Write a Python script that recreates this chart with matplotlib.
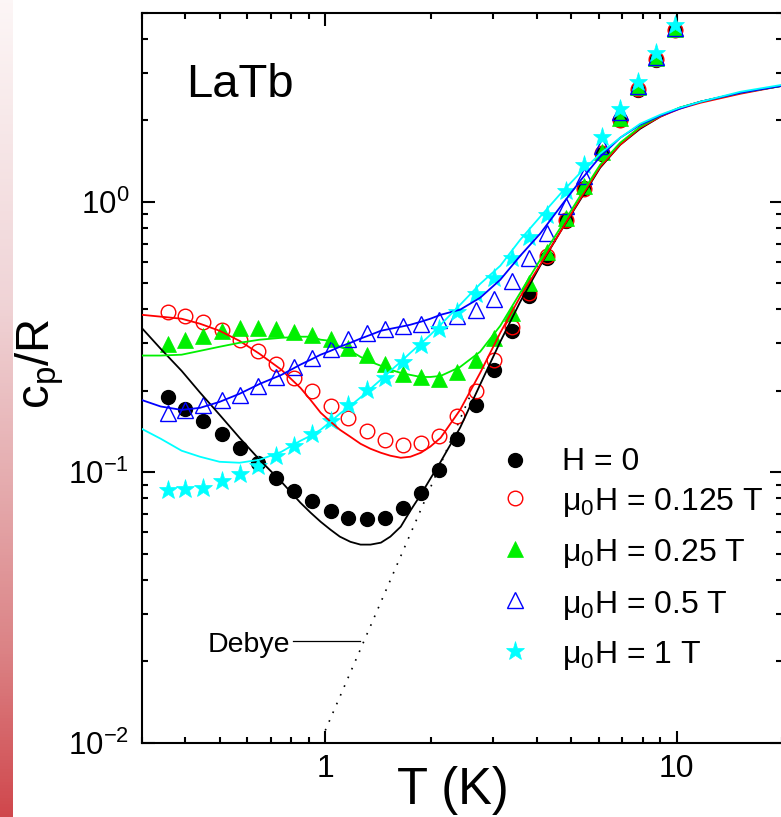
import numpy as np
import matplotlib
matplotlib.use("Agg")
import matplotlib.pyplot as plt
from matplotlib.ticker import LogLocator, FuncFormatter, NullFormatter
from matplotlib.colors import LinearSegmentedColormap

plt.rcParams['font.family'] = ['Liberation Sans', 'DejaVu Sans']
plt.rcParams['mathtext.fontset'] = 'custom'
plt.rcParams['mathtext.rm'] = 'Liberation Sans'
plt.rcParams['mathtext.it'] = 'Liberation Sans:italic'
plt.rcParams['mathtext.bf'] = 'Liberation Sans:bold'
plt.rcParams['mathtext.default'] = 'regular'
plt.rcParams['axes.unicode_minus'] = False

# ---------------- data ----------------
T_data = [0.357, 0.400, 0.450, 0.507, 0.570, 0.643, 0.725, 0.816, 0.918, 1.035,
          1.164, 1.313, 1.476, 1.666, 1.875, 2.109, 2.377, 2.679, 3.015, 3.400,
          3.791, 4.276, 4.843, 5.437, 6.131, 6.909, 7.764, 8.750, 9.908]

cp_H0 = [0.190, 0.172, 0.155, 0.139, 0.123, 0.108, 0.095, 0.085, 0.078, 0.072,
         0.068, 0.067, 0.068, 0.074, 0.084, 0.102, 0.133, 0.177, 0.239, 0.332,
         0.45, 0.62, 0.85, 1.12, 1.50, 2.00, 2.60, 3.35, 4.30]
cp_0125 = [0.390, 0.377, 0.359, 0.336, 0.307, 0.280, 0.252, 0.223, 0.199, 0.175,
           0.1586, 0.1423, 0.1318, 0.1263, 0.1282, 0.1364, 0.1618, 0.200, 0.2605, 0.343,
           0.460, 0.628, 0.858, 1.11, 1.52, 2.01, 2.62, 3.37, 4.32]
cp_025 = [0.298, 0.309, 0.320, 0.334, 0.341, 0.341, 0.338, 0.331, 0.322, 0.311,
          0.288, 0.272, 0.251, 0.231, 0.224, 0.221, 0.234, 0.2605, 0.313, 0.388,
          0.501, 0.652, 0.870, 1.14, 1.53, 2.04, 2.65, 3.40, 4.35]
cp_05 = [0.1655, 0.1693, 0.1777, 0.1854, 0.1934, 0.2076, 0.2248, 0.2448, 0.2644, 0.2854,
         0.311, 0.327, 0.338, 0.346, 0.354, 0.364, 0.379, 0.399, 0.437, 0.5075,
         0.619, 0.766, 0.961, 1.24, 1.61, 2.15, 2.68, 3.44, 4.39]
cp_1 = [0.0862, 0.0869, 0.0874, 0.0930, 0.0985, 0.1057, 0.1151, 0.1253, 0.1388, 0.155,
        0.1777, 0.2006, 0.223, 0.2545, 0.296, 0.339, 0.390, 0.457, 0.522, 0.619,
        0.738, 0.895, 1.10, 1.37, 1.73, 2.20, 2.78, 3.55, 4.51]

# model curves
T_fit = [0.30, 0.34, 0.39, 0.44, 0.50, 0.57, 0.65, 0.75, 0.85, 0.908,
         0.97, 1.035, 1.10, 1.179, 1.26, 1.345, 1.44, 1.532, 1.64, 1.747,
         1.87, 1.991, 2.13, 2.42, 2.76, 3.15, 3.59, 4.09, 4.67, 5.32,
         6.06, 6.91, 7.88, 8.98, 10.2, 11.7, 15.2, 20.0]
fit_H0 = [0.342, 0.286, 0.237, 0.197, 0.1632, 0.1341, 0.1112, 0.0922, 0.0771, 0.0709,
          0.0656, 0.0613, 0.0578, 0.0553, 0.0540, 0.0540, 0.0549, 0.0578, 0.0629, 0.0721,
          0.0826, 0.0946, 0.1093, 0.1461, 0.211, 0.304, 0.427, 0.580, 0.775, 1.017,
          1.336, 1.624, 1.862, 2.062, 2.226, 2.343, 2.529, 2.684]
fit_0125 = [0.382, 0.376, 0.3694, 0.354, 0.3335, 0.306, 0.274, 0.2393, 0.205, 0.185,
            0.166, 0.1538, 0.1436, 0.1352, 0.1274, 0.1221, 0.1180, 0.1151, 0.1131, 0.1141,
            0.1180, 0.1244, 0.1341, 0.170, 0.233, 0.328, 0.446, 0.585, 0.775, 1.026,
            1.347, 1.624, 1.877, 2.062, 2.207, 2.323, 2.508, 2.684]
fit_025 = [0.270, 0.270, 0.272, 0.281, 0.291, 0.301, 0.309, 0.314, 0.317, 0.317,
           0.309, 0.306, 0.291, 0.281, 0.267, 0.256, 0.2475, 0.2393, 0.233, 0.229,
           0.225, 0.225, 0.227, 0.245, 0.279, 0.348, 0.461, 0.610, 0.801, 1.052,
           1.370, 1.652, 1.894, 2.079, 2.226, 2.343, 2.529, 2.684]
fit_05 = [0.185, 0.175, 0.170, 0.173, 0.182, 0.195, 0.212, 0.229, 0.250, 0.2605,
          0.272, 0.281, 0.291, 0.301, 0.312, 0.322, 0.3335, 0.339, 0.345, 0.351,
          0.360, 0.3694, 0.382, 0.399, 0.4417, 0.515, 0.6316, 0.762, 0.958, 1.196,
          1.467, 1.724, 1.926, 2.079, 2.207, 2.343, 2.529, 2.684]
fit_1 = [0.1448, 0.133, 0.1201, 0.1141, 0.1093, 0.1084, 0.1112, 0.1190, 0.1307, 0.1364,
         0.1436, 0.1537, 0.1646, 0.1761, 0.189, 0.2035, 0.220, 0.237, 0.256, 0.2765,
         0.299, 0.322, 0.351, 0.416, 0.497, 0.580, 0.724, 0.880, 1.070, 1.280,
         1.505, 1.724, 1.943, 2.096, 2.226, 2.343, 2.551, 2.707]

# Debye T^3 line (end points)
T_debye = [1.0, 2.6]
cp_debye = [0.0111, 0.195]

labels = ['H = 0', 'μ$_{0}$H = 0.125 T', 'μ$_{0}$H = 0.25 T',
          'μ$_{0}$H = 0.5 T', 'μ$_{0}$H = 1 T']

# ---------------- figure ----------------
W, H = 781, 817
fig = plt.figure(figsize=(W / 100, H / 100), dpi=100)

# decorative gradient strip at the left edge
gax = fig.add_axes([0, 0, 13 / W, 1])
grad_cmap = LinearSegmentedColormap.from_list(
    'strip', [(0.0, (0.99, 0.965, 0.965)), (0.37, (0.94, 0.83, 0.84)),
              (0.61, (0.895, 0.66, 0.67)), (0.8, (0.86, 0.51, 0.52)),
              (1.0, (0.815, 0.28, 0.30))])
gax.imshow(np.linspace(0, 1, 256)[:, None], aspect='auto', cmap=grad_cmap,
           extent=[0, 1, 1, 0])
gax.set_axis_off()

ax = fig.add_axes([141.6 / W, 74.3 / H, 640.7 / W, 730 / H])
ax.set_xscale('log')
ax.set_yscale('log')
ax.set_xlim(0.3, 20)
ax.set_ylim(0.01, 5)

GREEN = '#00f000'
st_H0 = dict(marker='o', ms=10, color='black', mec='black', mew=1)
st_0125 = dict(marker='o', ms=10.5, mfc='none', mec='red', mew=1.0)
st_025 = dict(marker='^', ms=11, color=GREEN, mec=GREEN, mew=0.5)
st_05 = dict(marker='^', ms=11.5, mfc='none', mec='blue', mew=1.0)
st_1 = dict(marker='*', ms=14, color='cyan', mec='cyan', mew=0.5)

# markers
ax.plot(T_data, cp_H0, ls='none', zorder=2, **st_H0)
ax.plot(T_data, cp_0125, ls='none', zorder=2, **st_0125)
ax.plot(T_data, cp_025, ls='none', zorder=2, **st_025)
ax.plot(T_data, cp_05, ls='none', zorder=2, **st_05)
ax.plot(T_data, cp_1, ls='none', zorder=2, **st_1)

# model curves
ax.plot(T_fit, fit_H0, '-', color='black', lw=1.3, zorder=3)
ax.plot(T_fit, fit_0125, '-', color='red', lw=1.3, zorder=3)
ax.plot(T_fit, fit_025, '-', color=GREEN, lw=1.3, zorder=3)
ax.plot(T_fit, fit_05, '-', color='blue', lw=1.3, zorder=3)
ax.plot(T_fit, fit_1, '-', color='cyan', lw=1.3, zorder=3)

# Debye line
ax.plot(T_debye, cp_debye, color='black', lw=1.2, linestyle=(0, (1, 4.7)), zorder=1)
ax.text(0.796, 0.02164, 'Debye', fontsize=20.5, ha='right', va='baseline')
ax.plot([0.807, 1.259], [0.0237, 0.0237], color='black', lw=0.9)  # annotation leader

# axes style
for s in ax.spines.values():
    s.set_linewidth(1.5)
ax.xaxis.set_major_locator(LogLocator(base=10, numticks=10))
ax.xaxis.set_minor_locator(LogLocator(base=10, subs=np.arange(2, 10), numticks=20))
ax.yaxis.set_major_locator(LogLocator(base=10, numticks=10))
ax.yaxis.set_minor_locator(LogLocator(base=10, subs=np.arange(2, 10), numticks=20))
ax.xaxis.set_major_formatter(FuncFormatter(lambda v, p: '%g' % v))
ax.xaxis.set_minor_formatter(NullFormatter())
ax.yaxis.set_minor_formatter(NullFormatter())
ax.tick_params(which='both', direction='in', top=True, right=True, width=1.5, colors='black')
ax.tick_params(which='major', length=9)
ax.tick_params(which='minor', length=4.5)
ax.tick_params(axis='x', which='major', labelsize=23, pad=8)
ax.tick_params(axis='y', which='major', labelsize=22.5, pad=9)

# legend (manual)
leg_my = [0.3873, 0.3353, 0.2658, 0.1955, 0.1263]
leg_ty = [0.3730, 0.3188, 0.2493, 0.1781, 0.1096]
for lab, my, ty, st in zip(labels, leg_my, leg_ty, [st_H0, st_0125, st_025, st_05, st_1]):
    ax.plot([0.5828], [my], transform=ax.transAxes, clip_on=False, ls='none', **st)
    ax.text(0.6562, ty, lab, transform=ax.transAxes, fontsize=23, ha='left', va='baseline')

ax.text(0.0693, 0.8849, 'LaTb', transform=ax.transAxes, fontsize=34, ha='left', va='baseline')

# axis labels
fig.text(453 / W, (H - 804) / H, 'T (K)', fontsize=36.5, ha='center', va='baseline')
fig.text(49.3 / W, (H - 363.5) / H, 'c$_{p}$/R', fontsize=34, rotation=90,
         rotation_mode='anchor', ha='center', va='baseline')

fig.savefig('out.png', dpi=100)
